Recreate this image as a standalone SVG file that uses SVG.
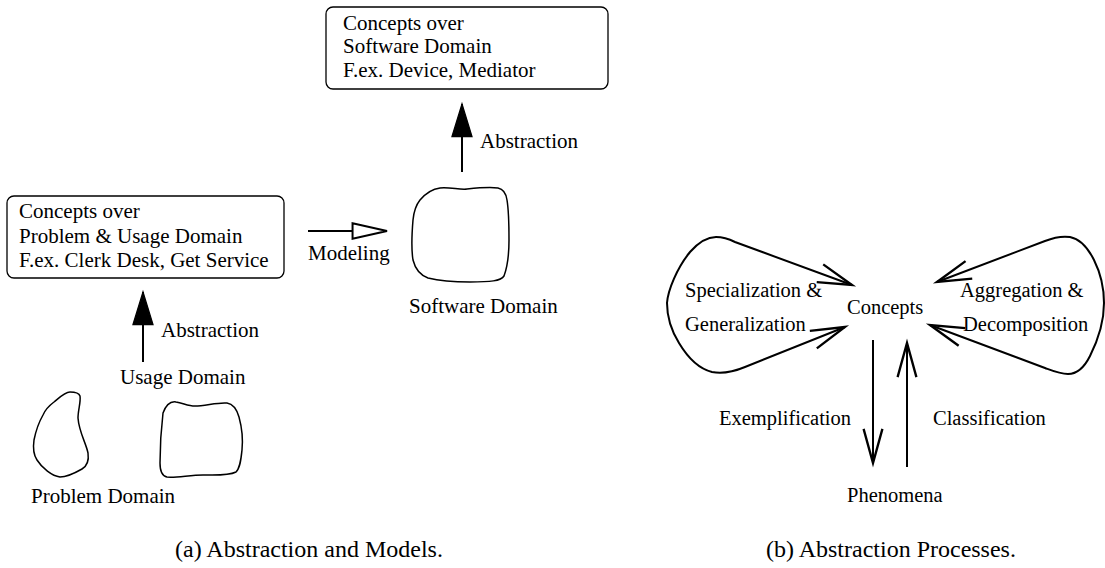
<svg xmlns="http://www.w3.org/2000/svg" width="1105" height="568" viewBox="0 0 1105 568">
<style>
  text { font-family: "Liberation Serif", "Times New Roman", serif; font-size: 21px; fill: #000; }
  .b { font-size: 20.5px; }
  .cap { font-size: 24px; }
  .box { fill: #fff; stroke: #000; stroke-width: 1.3; }
  .blob { fill: none; stroke: #000; stroke-width: 1.5; }
  .arr { fill: none; stroke: #000; stroke-width: 2; }
  .loop { fill: none; stroke: #000; stroke-width: 2; }
</style>
<defs>
  <marker id="filled" markerUnits="userSpaceOnUse" markerWidth="40" markerHeight="40" viewBox="-30 -12 32 24" refX="0" refY="0" orient="auto" overflow="visible">
    <path d="M -26 -8 L 0 0 L -26 8 Z" fill="#000" stroke="#000" stroke-width="1"/>
  </marker>
  <marker id="hollow" markerUnits="userSpaceOnUse" markerWidth="40" markerHeight="40" viewBox="-34 -12 36 24" refX="0" refY="0" orient="auto" overflow="visible">
    <path d="M -31 -7 L 0 0 L -31 7 Z" fill="#fff" stroke="#000" stroke-width="1.8"/>
  </marker>
  <marker id="openv" markerUnits="userSpaceOnUse" markerWidth="40" markerHeight="40" viewBox="-32 -12 34 24" refX="0" refY="0" orient="auto-start-reverse" overflow="visible">
    <path d="M -29 -8 L 0 0 L -29 8" fill="none" stroke="#000" stroke-width="2"/>
  </marker>
</defs>

<!-- Part (a) -->
<g id="node-problem-usage-concepts">
  <rect class="box" x="7" y="196" width="277" height="82" rx="7"/>
  <text x="19" y="218">Concepts over</text>
  <text x="19" y="243">Problem &amp; Usage Domain</text>
  <text x="19" y="267">F.ex. Clerk Desk, Get Service</text>
</g>
<g id="node-software-concepts">
  <rect class="box" x="326" y="7" width="282" height="82" rx="7"/>
  <text x="343" y="30">Concepts over</text>
  <text x="343" y="53">Software Domain</text>
  <text x="343" y="77">F.ex. Device, Mediator</text>
</g>
<g id="node-usage-domain">
  <path class="blob" d="M 163 413 C 166 405, 170 401, 176 402 C 183 403, 188 406, 195 406 C 205 406, 218 402, 227 403 C 233 404, 237 410, 239 417 C 242 428, 243 440, 242 450 C 241 460, 240 468, 236 472 C 228 476, 215 475, 203 475 C 190 475, 176 478, 167 477 C 161 476, 160 470, 160 463 C 160 450, 161 430, 163 413 Z"/>
  <text x="120" y="384">Usage Domain</text>
</g>
<g id="node-problem-domain">
  <path class="blob" d="M 70 392 C 75 392, 79 393, 80 396 C 81 402, 78 410, 78 418 C 79 432, 86 443, 88 453 C 89 460, 87 466, 82 469 C 75 473, 67 477, 60 477 C 52 476, 42 468, 37 460 C 33 454, 33 447, 34 440 C 36 430, 39 422, 43 415 C 46 408, 50 405, 54 402 C 60 397, 65 392, 70 392 Z"/>
  <text x="31" y="503">Problem Domain</text>
</g>
<g id="node-software-domain">
  <path class="blob" d="M 420 200 C 426 193, 432 189, 440 188 C 450 187, 460 190, 467 189 C 477 188, 490 187, 498 188 C 503 189, 506 193, 507 200 C 509 212, 509 228, 509 240 C 509 255, 507 268, 504 276 C 501 281, 490 282, 470 282 C 455 282, 440 281, 428 278 C 420 275, 415 268, 413 260 C 411 248, 412 232, 413 220 C 414 210, 416 205, 420 200 Z"/>
  <text x="409" y="313">Software Domain</text>
</g>

<!-- Part (b) -->
<g id="node-concepts">
  <text class="b" x="847" y="314">Concepts</text>
</g>
<g id="node-phenomena">
  <text class="b" x="847" y="502">Phenomena</text>
</g>

<g id="connectors">
  <!-- (a) -->
  <line class="arr" x1="143" y1="362" x2="143" y2="292" marker-end="url(#filled)"/>
  <text x="161" y="337">Abstraction</text>
  <line class="arr" x1="462" y1="172" x2="462" y2="104" marker-end="url(#filled)"/>
  <text x="480" y="148">Abstraction</text>
  <line class="arr" x1="308" y1="231" x2="387" y2="231" marker-end="url(#hollow)"/>
  <text x="308" y="260">Modeling</text>

  <!-- (b) loops -->
  <path class="loop" d="M 845 327 L 745 367 C 733 372, 722 374, 712 372 C 700 369, 688 358, 679 343 C 671 330, 667 315, 667 303 C 668 290, 677 268, 690 252 C 698 243, 706 237, 716 237 C 722 237, 727 238, 735 242 L 852 285" marker-start="url(#openv)" marker-end="url(#openv)"/>
  <text class="b" x="685" y="297">Specialization &amp;</text>
  <text class="b" x="685" y="331">Generalization</text>

  <path class="loop" d="M 937 282 L 1045 241 C 1055 237, 1063 236, 1070 237 C 1080 239, 1088 248, 1094 260 C 1100 272, 1104 288, 1104 303 C 1104 320, 1098 340, 1090 356 C 1085 366, 1078 374, 1068 374 C 1060 374, 1053 371, 1045 368 L 930 325" marker-start="url(#openv)" marker-end="url(#openv)"/>
  <text class="b" x="960" y="297">Aggregation &amp;</text>
  <text class="b" x="963" y="331">Decomposition</text>

  <!-- (b) vertical -->
  <line class="arr" x1="873" y1="340" x2="873" y2="463" marker-end="url(#openv)"/>
  <text class="b" x="719" y="425">Exemplification</text>
  <line class="arr" x1="907" y1="467" x2="907" y2="343" marker-end="url(#openv)"/>
  <text class="b" x="933" y="425">Classification</text>
</g>

<text class="cap" x="175" y="557">(a) Abstraction and Models.</text>
<text class="cap" x="766" y="557">(b) Abstraction Processes.</text>
</svg>
